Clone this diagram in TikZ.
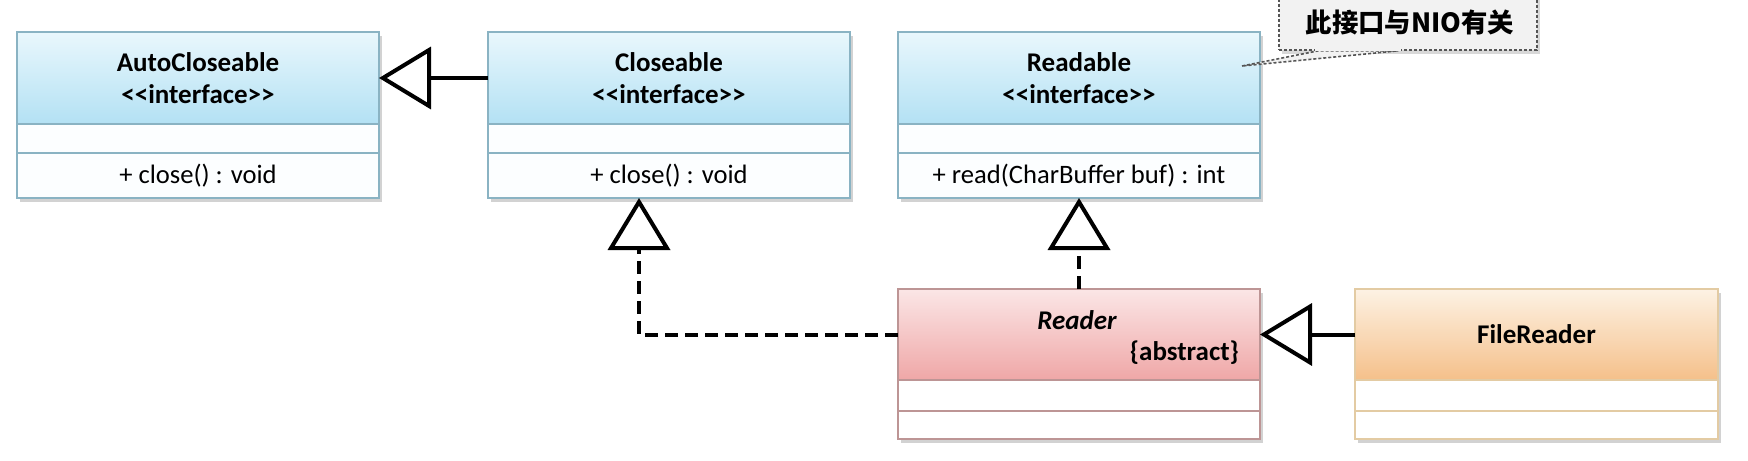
\documentclass[tikz,border=0pt]{standalone}
\usepackage{fontspec}
\setmainfont{Carlito}
\newfontfamily\cjk{Noto Sans CJK SC}
\usetikzlibrary{arrows.meta,calc,shadows}
\definecolor{blueTop}{HTML}{E9F7FC}
\definecolor{blueBot}{HTML}{B3E1F4}
\definecolor{blueLine}{HTML}{8AB3C3}
\definecolor{pinkTop}{HTML}{FBE6E6}
\definecolor{pinkBot}{HTML}{EFA7A7}
\definecolor{pinkLine}{HTML}{BD9595}
\definecolor{orgTop}{HTML}{FDF2E4}
\definecolor{orgBot}{HTML}{F5C08A}
\definecolor{orgLine}{HTML}{E3CBA3}
\definecolor{rowFill}{HTML}{FCFEFF}
\definecolor{noteFill}{HTML}{F2F2F2}
\definecolor{noteLine}{HTML}{555555}
\begin{document}
\begin{tikzpicture}[x=0.5pt,y=-0.5pt,
  box/.style={rectangle, inner sep=0pt, outer sep=0pt, line width=1pt,
    minimum width=181pt, align=center,
    font=\fontsize{13.3}{16}\selectfont,
    drop shadow={shadow xshift=1.5pt, shadow yshift=-2pt, opacity=0.35, fill=gray}},
  bluehead/.style={box, draw=blueLine, top color=blueTop, bottom color=blueBot, minimum height=46pt, font=\fontsize{13.5}{16}\selectfont\bfseries},
  pinkhead/.style={box, draw=pinkLine, top color=pinkTop, bottom color=pinkBot, minimum height=45.5pt},
  orghead/.style={box, draw=orgLine, top color=orgTop, bottom color=orgBot, minimum height=45.5pt, font=\fontsize{13.5}{16}\selectfont\bfseries},
  bluerow/.style={box, draw=blueLine, fill=rowFill, minimum height=#1},
  pinkrow/.style={box, draw=pinkLine, fill=white, minimum height=#1},
  orgrow/.style={box, draw=orgLine, fill=white, minimum height=#1},
  gen/.style={line width=2pt, line join=miter,
    -{Triangle[open, length=26pt, width=31pt]}},
  realize/.style={gen, dash pattern=on 6.5pt off 3.5pt},
  notebox/.style={rectangle, draw=noteLine, fill=noteFill, line width=0.8pt,
    dash pattern=on 1.5pt off 1pt, minimum width=129pt, minimum height=35pt,
    drop shadow={shadow xshift=1.5pt, shadow yshift=-2pt, opacity=0.3, fill=gray}},
]
\useasboundingbox (0,0) rectangle (1748,460);
\clip (0,0) rectangle (1748,460);
\fill[white] (0,0) rectangle (1748,460);

% AutoCloseable
\node[bluehead] (ach) at (198,78) {AutoCloseable\\{<}{<}interface{>}{>}};
\node[bluerow=14.5pt, anchor=north] (acr1) at (ach.south) {};
\node[bluerow=22.5pt, anchor=north] (acr2) at (acr1.south) {+ close() : void};

% Closeable
\node[bluehead] (clh) at (669,78) {Closeable\\{<}{<}interface{>}{>}};
\node[bluerow=14.5pt, anchor=north] (clr1) at (clh.south) {};
\node[bluerow=22.5pt, anchor=north] (clr2) at (clr1.south) {+ close() : void};

% Readable
\node[bluehead] (rbh) at (1079,78) {Readable\\{<}{<}interface{>}{>}};
\node[bluerow=14.5pt, anchor=north] (rbr1) at (rbh.south) {};
\node[bluerow=22.5pt, anchor=north] (rbr2) at (rbr1.south) {+ read(CharBuffer buf) : int};

% Reader
\node[pinkhead] (rdh) at (1079,334.5) {};
\node[font=\fontsize{13.5}{16}\selectfont\bfseries\itshape] (rdname) at (1077,320) {Reader};
\node[font=\fontsize{13.5}{16}\selectfont\bfseries, anchor=east] (rdabs) at (1246,353) {\{abstract\}};
\node[pinkrow=15.5pt, anchor=north] (rdr1) at (rdh.south) {};
\node[pinkrow=14pt, anchor=north] (rdr2) at (rdr1.south) {};

% FileReader
\node[orghead, minimum width=181.5pt] (frh) at (1536.5,334.5) {FileReader};
\node[orgrow=15.5pt, minimum width=181.5pt, anchor=north] (frr1) at (frh.south) {};
\node[orgrow=14pt, minimum width=181.5pt, anchor=north] (frr2) at (frr1.south) {};

% Note
\coordinate (ptr) at (1242,66);
\node[notebox] (note) at (1408,15) {};
\fill[noteFill, draw=noteLine, line width=0.8pt, dash pattern=on 1.5pt off 1pt]
  (ptr) -- ($(note.south west)+(40,0)$) -- ($(note.south west)+(120,0)$) -- cycle;
\fill[noteFill] ($(note.south west)+(37,-2)$) rectangle ($(note.south west)+(123,-0.2)$);
\node[font=\cjk\bfseries\fontsize{13.2}{14}\selectfont] (notetext) at (1410,22) {此接口与NIO有关};

% Connectors
\draw[gen] (clh.west) -- (ach.east);
\draw[realize] (rdh.west) -| ($(clr2.south)+(-30,0)$);
\draw[realize] (rdh.north) -- (rbr2.south);
\draw[gen] (frh.west) -- (rdh.east);
\end{tikzpicture}
\end{document}
